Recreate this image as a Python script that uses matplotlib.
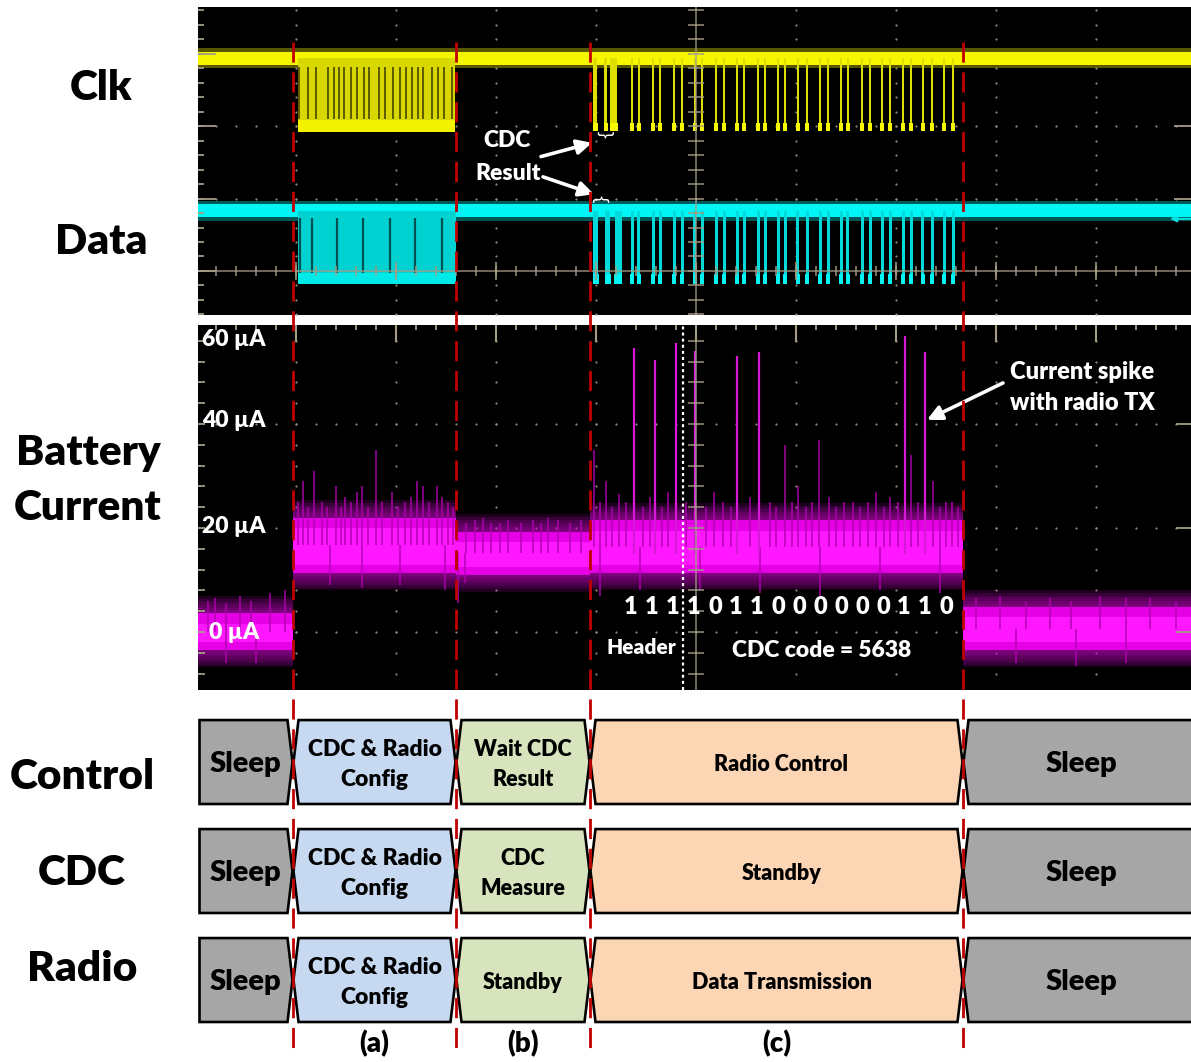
import numpy as np
import matplotlib.pyplot as plt
from matplotlib.patches import Polygon

plt.rcParams['font.family'] = ['Lato', 'DejaVu Sans']
plt.rcParams['font.weight'] = 'heavy'
plt.rcParams['lines.scale_dashes'] = False

W, H = 1191, 1062

# time axis is in scope divisions, phase boundaries (a) (b) (c)
phase_edges = [0.02, 0.97, 2.60, 3.94, 7.67, 9.95]

# digital traces, levels in vertical divisions
clk_hi, clk_lo = 2.94, 1.95
data_hi, data_lo = 0.83, -0.17
burst_clk = (1.02, 2.59)
burst_data = (1.02, 2.60)
clk_gaps = [1.03, 1.12, 1.20, 1.32, 1.38, 1.43, 1.48, 1.55, 1.61, 1.68, 1.73, 1.83,
            1.89, 1.97, 2.04, 2.10, 2.16, 2.22, 2.27, 2.36, 2.42, 2.48, 2.56]
data_gaps = [1.04, 1.16, 1.41, 1.67, 1.94, 2.19, 2.46]
clk_t = [3.99, 4.10, 4.18, 4.36, 4.43, 4.57, 4.64, 4.78, 4.86, 4.99, 5.06, 5.20,
         5.28, 5.41, 5.48, 5.62, 5.69, 5.82, 5.89, 6.02, 6.11, 6.24, 6.32, 6.45,
         6.52, 6.66, 6.74, 6.86, 6.94, 7.07, 7.15, 7.27, 7.36, 7.48, 7.57]
clk_w = [0.04, 0.03, 0.07] + [0.028] * 32
data_t = [3.995, 4.115, 4.225] + clk_t[3:]
data_w = [0.05, 0.05, 0.07] + [0.03] * 32

# battery current (uA): band per phase
band_lo = [-3.5, 11.3, 11.0, 11.3, -3.5]
band_hi = [3.6, 22.0, 19.3, 21.5, 4.8]
spike_t = [4.38, 4.59, 4.795, 4.99, 5.41, 5.63, 7.09, 7.29]
spike_top = [54.6, 52.3, 55.5, 54.0, 53.0, 53.8, 57.0, 53.8]
whisk_t = [0.12, 0.19, 0.30, 0.44, 0.55, 0.74, 0.89, 1.02, 1.07, 1.12, 1.18, 1.26,
           1.31, 1.40, 1.45, 1.49, 1.55, 1.61, 1.66, 1.72, 1.80, 1.86, 1.96, 2.02,
           2.09, 2.15, 2.21, 2.27, 2.33, 2.41, 2.46, 2.52, 2.57, 2.70, 2.79, 2.87,
           2.95, 3.04, 3.12, 3.25, 3.37, 3.45, 3.52, 3.62, 3.74, 3.85, 3.98, 4.04,
           4.10, 4.16, 4.23, 4.30, 4.47, 4.54, 4.66, 4.72, 4.90, 5.10, 5.18, 5.27,
           5.35, 5.54, 5.74, 5.80, 5.89, 5.96, 6.02, 6.10, 6.16, 6.23, 6.33, 6.40,
           6.48, 6.57, 6.64, 6.72, 6.80, 6.88, 6.94, 7.02, 7.15, 7.22, 7.37, 7.44,
           7.50, 7.56, 7.62, 7.80, 8.04, 8.30, 8.54, 8.75, 9.04, 9.30, 9.54, 9.80]
whisk_top = [6.0, 6.5, 5.5, 7.0, 6.0, 7.5, 8.0, 25, 29, 24, 31, 25,
             24, 28, 24, 26, 25, 27, 28, 24, 35, 25, 27, 24,
             25, 26, 29, 28, 25, 28, 26, 25, 24, 21, 21.5, 22,
             21, 21, 21.5, 21, 21.5, 21, 22, 21.5, 21, 21.5, 35, 25,
             29, 24, 26.5, 25, 24, 26, 24, 27, 25, 24, 27, 25,
             24, 26, 25, 24, 36, 25, 28, 24, 25, 37, 26, 24,
             25, 25, 24, 25, 27, 24, 26, 25, 34, 25, 29, 24,
             25, 25, 24, 6.5, 7.0, 6.0, 6.5, 6.0, 7.0, 6.5, 6.5, 6.0]
dip_t = [0.30, 0.60, 1.34, 1.66, 2.04, 2.49, 2.62, 2.69, 4.04, 4.44, 5.04, 5.64,
         6.24, 6.84, 7.44, 8.20, 8.80, 9.30]
dip_bot = [-6, -6, 9, 8.5, 9, 8, 5.5, 9.5, 7, 8, 8, 7.5, 7, 8, 7.5, -6, -6.5, -6]

# transmitted word: 3 header bits + CDC code 5638
bits = "1111011000000110"
bit_t0, bit_pitch = 4.35, 0.21
header_t = 4.87

rows = ["Control", "CDC", "Radio"]
phase_colors = ['#A6A6A6', '#C6D9F1', '#D7E4BD', '#FCD5B5', '#A6A6A6']
row_labels = [
    ["Sleep", "CDC & Radio\nConfig", "Wait CDC\nResult", "Radio Control", "Sleep"],
    ["Sleep", "CDC & Radio\nConfig", "CDC\nMeasure", "Standby", "Sleep"],
    ["Sleep", "CDC & Radio\nConfig", "Standby", "Data Transmission", "Sleep"],
]
label_sizes = [
    [21, 16.5, 15.5, 15.5, 21],
    [21, 16.5, 15.5, 15.5, 21],
    [21, 16.5, 15.5, 15.5, 21],
]
phase_tags = ["(a)", "(b)", "(c)"]

GRAT = '#a39c86'
DOT = '#8e8a78'


def frac(x0, y0, x1, y1):
    return [x0 / W, 1 - y1 / H, (x1 - x0) / W, (y1 - y0) / H]


def scope_axes(ax, ylo, yhi):
    ax.set_facecolor('black')
    ax.set_xlim(0.02, 9.95)
    ax.set_ylim(ylo, yhi)
    ax.set_xticks([])
    ax.set_yticks([])
    for s in ax.spines.values():
        s.set_visible(False)


def steps(edges, vals):
    xs, ys = [], []
    for i, v in enumerate(vals):
        xs += [edges[i], edges[i + 1]]
        ys += [v, v]
    return np.array(xs), np.array(ys)


fig = plt.figure(figsize=(W / 100, H / 100), dpi=100)

# ---------------- clk / data scope panel ----------------
ax = fig.add_axes(frac(198, 7, 1191, 315))
scope_axes(ax, -0.608, 3.646)
xdots = np.arange(0.2, 9.9, 0.2)
ydots = np.arange(-0.6, 3.7, 0.2)
for gx in [1, 2, 3, 4, 6, 7, 8, 9]:
    ax.scatter(np.full(len(ydots), gx), ydots, s=2.5, color=DOT, lw=0, zorder=1)
for gy in [1, 2, 3]:
    ax.scatter(xdots, np.full(len(xdots), gy), s=2.5, color=DOT, lw=0, zorder=1)

xl = (0.02, 9.95)
# clk idle level
ax.fill_between(xl, clk_hi - 0.14, clk_hi + 0.14, color='#a0a000', alpha=0.55, lw=0, zorder=2)
ax.fill_between(xl, clk_hi - 0.09, clk_hi + 0.09, color='#f6f600', lw=0, zorder=2)
ax.fill_between(burst_clk, clk_lo, clk_hi, color='#d8d800', lw=0, zorder=2)
ax.vlines(clk_gaps, clk_lo + 0.15, clk_hi - 0.12, color='#3a3a00', lw=1.3, alpha=0.85, zorder=2)
ax.fill_between(burst_clk, clk_lo - 0.03, clk_lo + 0.13, color='#f2f200', lw=0, zorder=2)
ax.bar(clk_t, clk_hi - clk_lo, width=clk_w, bottom=clk_lo, color='#dede00', lw=0, zorder=2)
ax.bar(clk_t, 0.12, width=np.array(clk_w) + 0.01, bottom=clk_lo - 0.02, color='#f8f800', lw=0, zorder=2)

# data idle level
ax.fill_between(xl, data_hi - 0.14, data_hi + 0.14, color='#00a0a0', alpha=0.55, lw=0, zorder=2)
ax.fill_between(xl, data_hi - 0.09, data_hi + 0.09, color='#00f6f6', lw=0, zorder=2)
ax.fill_between(burst_data, data_lo, data_hi, color='#00d2d2', lw=0, zorder=2)
ax.vlines(data_gaps, data_lo + 0.12, data_hi - 0.1, color='#003a3a', lw=1.6, alpha=0.85, zorder=2)
ax.fill_between(burst_data, data_lo - 0.01, data_lo + 0.14, color='#00eaea', lw=0, zorder=2)
ax.bar(data_t, data_hi - data_lo, width=data_w, bottom=data_lo, color='#00dada', lw=0, zorder=2)
ax.bar(data_t, 0.14, width=np.array(data_w) + 0.01, bottom=data_lo - 0.01, color='#00f4f4', lw=0, zorder=2)

# graticule lines on top of traces
ax.axhline(0, color=GRAT, lw=1.2, alpha=0.8, zorder=3)
ax.vlines(xdots, -0.07, 0.07, color=GRAT, lw=1.3, alpha=0.8, zorder=3)
ax.vlines(np.arange(1, 10), -0.13, 0.13, color=GRAT, lw=1.5, alpha=0.8, zorder=3)
ax.axvline(5, color=GRAT, lw=1.2, alpha=0.8, zorder=3)
ax.hlines(ydots, 4.92, 5.08, color=GRAT, lw=1.3, alpha=0.8, zorder=3)
ax.hlines(ydots, 0.02, 0.08, color=GRAT, lw=1.3, zorder=3)
ax.hlines([0, 1, 2, 3], 0.02, 0.2, color=GRAT, lw=1.3, zorder=3)
ax.hlines([1, 2], 9.78, 9.95, color=GRAT, lw=1.3, zorder=3)

ax.text(3.11, 1.80, "CDC", color='white', fontsize=16.5, ha='center', va='center', zorder=4)
ax.text(3.12, 1.35, "Result", color='white', fontsize=16.5, ha='center', va='center', zorder=4)
arr = dict(arrowstyle='-|>', color='white', lw=2.6, mutation_scale=22, shrinkA=0, shrinkB=0)
ax.annotate("", xy=(3.96, 1.77), xytext=(3.45, 1.58), arrowprops=arr, zorder=4)
ax.annotate("", xy=(3.98, 1.06), xytext=(3.47, 1.30), arrowprops=arr, zorder=4)
ax.text(4.06, 1.86, "}", rotation=-90, color='white', fontsize=12, ha='center', va='center',
        family='DejaVu Sans', weight='normal', zorder=4)
ax.text(4.05, 1.02, "}", rotation=90, color='white', fontsize=12, ha='center', va='center',
        family='DejaVu Sans', weight='normal', zorder=4)
ax.annotate("", xy=(9.74, 0.72), xytext=(9.97, 0.72),
            arrowprops=dict(arrowstyle='-|>', color='#00e0e0', lw=1.5, mutation_scale=9,
                            shrinkA=0, shrinkB=0), zorder=4)

# ---------------- battery current panel ----------------
ax = fig.add_axes(frac(198, 325, 1191, 690))
scope_axes(ax, -11.15, 59.04)
cdots = np.arange(-8, 57, 4)
for gx in [1, 2, 3, 4, 6, 7, 8, 9]:
    ax.scatter(np.full(len(cdots), gx), cdots, s=2.5, color=DOT, lw=0, zorder=1)
for gy in [0, 20, 40]:
    ax.scatter(xdots, np.full(len(xdots), gy), s=2.5, color=DOT, lw=0, zorder=1)

xs, blo = steps(phase_edges, band_lo)
_, bhi = steps(phase_edges, band_hi)
mid = (blo + bhi) / 2
# soft haze around the noise band
for k in range(6, 0, -1):
    ax.fill_between(xs, blo - 0.55 * k, bhi + 0.55 * k, color='#c000c0', alpha=0.16, lw=0, zorder=2)
ax.fill_between(xs, blo, bhi, color='#e600e6', lw=0, zorder=2)
ax.fill_between(xs, blo + 1.5, bhi - 2.0, color='#ff18ff', lw=0, zorder=2)
wmid = np.interp(whisk_t, xs, mid)
dmid = np.interp(dip_t, xs, mid)
ax.vlines(whisk_t, wmid, whisk_top, color='#b000b0', lw=1.2, alpha=0.85, zorder=2)
ax.vlines(dip_t, dip_bot, dmid, color='#b000b0', lw=1.2, alpha=0.85, zorder=2)
ax.vlines(spike_t, 15, spike_top, color='#d818d8', lw=1.6, zorder=2)

ax.axvline(5, color=GRAT, lw=1.2, alpha=0.8, zorder=3)
ax.hlines(cdots, 4.92, 5.08, color=GRAT, lw=1.3, alpha=0.8, zorder=3)
ax.hlines(cdots, 0.02, 0.09, color=GRAT, lw=1.3, zorder=3)
ax.vlines(xdots, 58.0, 59.04, color=GRAT, lw=1.3, zorder=3)
ax.vlines(np.arange(1, 10), 55.8, 59.04, color=GRAT, lw=1.5, zorder=3)
ax.hlines([0, 20, 40], 9.80, 9.95, color=GRAT, lw=1.3, zorder=3)
ax.vlines(header_t, -11.15, 59.04, color='white', lw=1.6, linestyles=(0, (2.2, 2.2)), zorder=3)

for y, lab, x in [(56.2, "60 µA", 0.06), (40.6, "40 µA", 0.06), (20.2, "20 µA", 0.06), (0.0, "0 µA", 0.13)]:
    ax.text(x, y, lab, color='white', fontsize=16.5, ha='left', va='center', zorder=4)
for i, b in enumerate(bits):
    ax.text(bit_t0 + i * bit_pitch, 4.8, b, color='white', fontsize=17, ha='center',
            va='center', zorder=4)
ax.text(4.45, -2.9, "Header", color='white', fontsize=15, ha='center', va='center', zorder=4)
ax.text(6.26, -3.5, "CDC code = 5638", color='white', fontsize=16.5, ha='center', va='center', zorder=4)
ax.text(8.14, 50.0, "Current spike", color='white', fontsize=17, ha='left', va='center', zorder=4)
ax.text(8.14, 44.0, "with radio TX", color='white', fontsize=17, ha='left', va='center', zorder=4)
ax.annotate("", xy=(7.31, 40.8), xytext=(8.07, 47.9), arrowprops=arr, zorder=4)

# ---------------- state timing diagram ----------------
ax = fig.add_axes(frac(198, 695, 1191, 1062))
ax.set_xlim(0.02, 9.95)
ax.set_ylim(2.752, -0.615)
ax.axis('off')
half, bev = 0.385, 0.055
n = len(phase_colors)
for r in range(len(rows)):
    for i in range(n):
        x0, x1 = phase_edges[i], phase_edges[i + 1]
        top, bot = r - half, r + half
        pts = []
        if i == 0:
            pts += [(x0 + 0.015, bot), (x0 + 0.015, top)]
        else:
            pts += [(x0 + 0.005, r), (x0 + bev, top)]
        if i == n - 1:
            pts += [(x1 + 0.3, top), (x1 + 0.3, bot)]
        else:
            pts += [(x1 - bev, top), (x1 - 0.005, r), (x1 - bev, bot)]
        if i != 0:
            pts += [(x0 + bev, bot)]
        ax.add_patch(Polygon(pts, closed=True, facecolor=phase_colors[i],
                             edgecolor='black', lw=1.9, zorder=2))
        xc = (x0 + x1) / 2 if i < n - 1 else x0 + 1.18
        ax.text(xc + (0.05 if i == 3 else 0), r + 0.02, row_labels[r][i],
                fontsize=label_sizes[r][i], ha='center', va='center', linespacing=1.55, zorder=3)
for i, tag in enumerate(phase_tags):
    ax.text((phase_edges[i + 1] + phase_edges[i + 2]) / 2, 2.58, tag, fontsize=20,
            ha='center', va='center')

# row titles
for y, s in [(88, "Clk"), (242, "Data"), (453, "Battery"), (508, "Current")]:
    fig.text(88 / W if s in ("Battery", "Current") else 101 / W, 1 - y / H, s, fontsize=30.5,
             ha='center', va='center')
for y, s in [(777, "Control"), (873, "CDC"), (969, "Radio")]:
    fig.text(82 / W, 1 - y / H, s, fontsize=30.5, ha='center', va='center')

# phase boundaries through every panel
ax = fig.add_axes([0, 0, 1, 1])
ax.set_xlim(-1.96, 9.95)
ax.set_ylim(H, 0)
ax.axis('off')
ax.patch.set_alpha(0)
ax.vlines(phase_edges[1:-1], 42, 1055, colors='#C00000', lw=2.0, linestyles=(0, (14.5, 7)))

fig.savefig('out.png', dpi=100)
